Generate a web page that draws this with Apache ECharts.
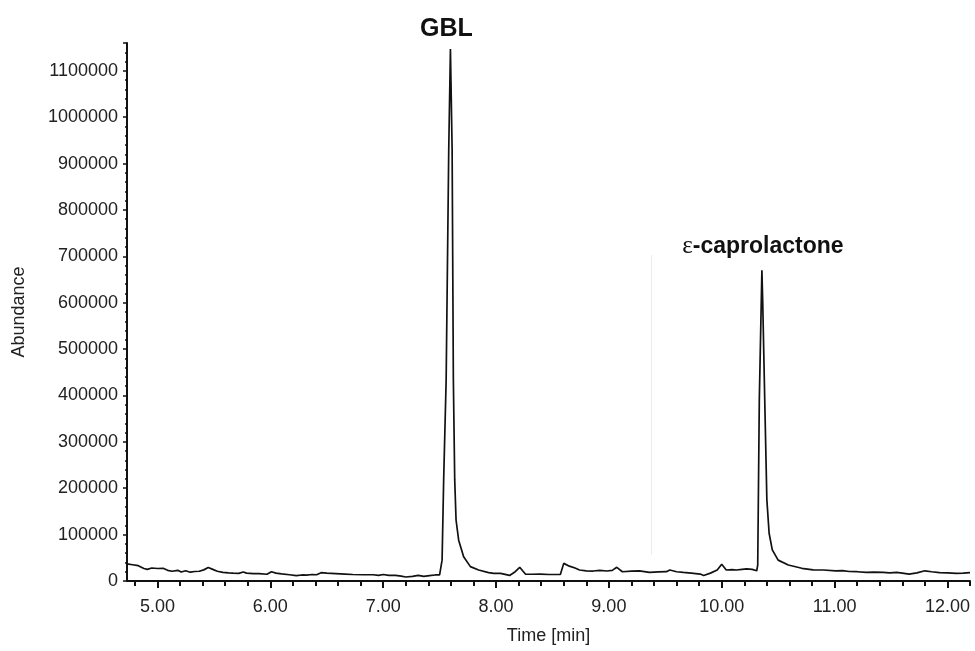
<!DOCTYPE html>
<html>
<head>
<meta charset="utf-8">
<script src="https://cdn.jsdelivr.net/npm/echarts@6/dist/echarts.min.js"></script>
<style>
html,body{margin:0;padding:0;background:#fff;}
#chart{width:975px;height:651px;}
</style>
</head>
<body>
<div id="chart"></div>
<script>
// Retention time (min)
const times = [
  4.73, 4.78, 4.83, 4.88, 4.91, 4.95, 5.00, 5.05, 5.09, 5.13, 5.18, 5.21, 5.25, 5.29, 5.33, 5.37,
  5.41, 5.45, 5.49, 5.53, 5.58, 5.63, 5.67, 5.72, 5.76, 5.79, 5.85, 5.90, 5.97, 6.01, 6.05, 6.10,
  6.17, 6.23, 6.28, 6.32, 6.37, 6.41, 6.45, 6.50, 6.58, 6.66, 6.73, 6.82, 6.91, 6.96, 7.00, 7.05,
  7.11, 7.16, 7.20, 7.26, 7.31, 7.36, 7.41, 7.46, 7.50,
  7.507, 7.522, 7.536, 7.558, 7.581, 7.596, 7.611, 7.622, 7.634, 7.646, 7.669, 7.713, 7.773, 7.846, 7.934,
  7.98, 8.04, 8.12, 8.17, 8.21, 8.26, 8.32, 8.39, 8.47, 8.57, 8.60, 8.65, 8.70, 8.74, 8.80, 8.86,
  8.92, 8.98, 9.03, 9.07, 9.12, 9.20, 9.27, 9.36, 9.44, 9.51, 9.54, 9.60, 9.66, 9.73, 9.81, 9.84,
  9.90, 9.96, 10.00, 10.04, 10.09, 10.13, 10.18, 10.22, 10.27, 10.31,
  10.319, 10.333, 10.356, 10.363, 10.383, 10.40, 10.42, 10.448, 10.50, 10.59, 10.71, 10.81,
  10.90, 11.01, 11.07, 11.13, 11.20, 11.28, 11.35, 11.43, 11.49, 11.55, 11.60, 11.66, 11.73, 11.80,
  11.86, 11.93, 12.00, 12.08, 12.14, 12.20
];
// Abundance
const abundance = [
  37000, 35000, 33000, 27000, 25000, 28000, 27000, 27500, 23000, 21000, 23000, 19500, 22000, 19000, 20500, 21000,
  24000, 29000, 25000, 21000, 18500, 17500, 17000, 16500, 19500, 17000, 16000, 16000, 14500, 20000, 17000, 15500,
  13500, 11500, 13000, 12500, 14000, 13500, 18000, 17000, 16000, 15000, 14000, 13500, 13500, 12000, 14000, 12000,
  12000, 10500, 8600, 10000, 12000, 10000, 11500, 13000, 13000,
  13000, 45000, 218000, 433000, 930000, 1147000, 930000, 433000, 218000, 131000, 88000, 52500, 31000, 23700, 18000,
  16500, 16500, 12000, 20000, 29500, 15000, 14500, 15000, 14000, 14000, 38000, 32000, 28000, 23700, 22000, 21500,
  23000, 21500, 23000, 29500, 20000, 21500, 22000, 18500, 19500, 20000, 23700, 20000, 18500, 17000, 15000, 12000,
  17000, 23700, 36000, 23700, 24500, 23700, 25000, 26000, 25000, 22000,
  34500, 390000, 670000, 605000, 369000, 175000, 103000, 67000, 45000, 34500, 27400, 24000,
  23700, 22000, 22500, 20500, 20000, 18500, 19000, 18500, 17500, 18500, 17000, 15000, 17500, 22000,
  20000, 18000, 17500, 16500, 17000, 18000
];
// X axis tick values
const xMajorTicks = [5, 6, 7, 8, 9, 10, 11, 12];
const xMinorTicks = [4.8, 5.0, 5.2, 5.4, 5.6, 5.8, 6.0, 6.2, 6.4, 6.6, 6.8, 7.0, 7.2, 7.4, 7.6, 7.8,
  8.0, 8.2, 8.4, 8.6, 8.8, 9.0, 9.2, 9.4, 9.6, 9.8, 10.0, 10.2, 10.4, 10.6, 10.8, 11.0, 11.2, 11.4,
  11.6, 11.8, 12.0, 12.2];
// Peak annotations
const peakNames = ['GBL', 'ε-caprolactone'];
const peakTimes = [7.596, 10.356];
// Faint vertical artefact line
const artefactTime = 9.374;
const artefactRange = [56000, 703000];

const chart = echarts.init(document.getElementById('chart'), null, {renderer: 'canvas'});
const font = '"Liberation Sans", Arial, Helvetica, sans-serif';

const lineData = times.map((t, i) => [t, abundance[i]]);

const peakMarks = peakNames.map((name, k) => {
  const i = times.indexOf(peakTimes[k]);
  const isEps = name.startsWith('ε');
  return {
    coord: [times[i], abundance[i]],
    label: {
      show: true,
      position: 'top',
      distance: isEps ? 11 : 7,
      offset: isEps ? [1, 0] : [-4, 0],
      formatter: isEps ? '{e|ε}{b|' + name.slice(1) + '}' : '{g|' + name + '}',
      rich: {
        e: {fontFamily: '"Liberation Serif", "DejaVu Serif", serif', fontSize: 25, color: '#111'},
        b: {fontFamily: font, fontSize: 23, fontWeight: 'bold', color: '#111'},
        g: {fontFamily: font, fontSize: 25, fontWeight: 'bold', color: '#111'}
      }
    }
  };
});

const option = {
  animation: false,
  backgroundColor: '#fff',
  grid: {left: 127, right: 5, top: 43, bottom: 70},
  xAxis: [
    {
      type: 'value', min: 4.73, max: 12.2, position: 'bottom',
      name: 'Time [min]', nameLocation: 'middle', nameGap: 46,
      nameTextStyle: {fontFamily: font, fontSize: 18, color: '#222'},
      axisLine: {show: true, onZero: false, lineStyle: {color: '#111', width: 2}},
      axisTick: {show: true, customValues: xMajorTicks, length: 7, lineStyle: {color: '#111', width: 2}},
      axisLabel: {
        customValues: xMajorTicks, margin: 17, fontFamily: font, fontSize: 18, color: '#222',
        formatter: v => Number(v).toFixed(2)
      },
      splitLine: {show: false}
    },
    {
      type: 'value', min: 4.73, max: 12.2, position: 'bottom',
      axisLine: {show: false},
      axisTick: {show: true, customValues: xMinorTicks, length: 5, lineStyle: {color: '#111', width: 2}},
      axisLabel: {show: false},
      splitLine: {show: false}
    }
  ],
  yAxis: {
    type: 'value', min: 0, max: 1160000, interval: 100000,
    name: 'Abundance', nameLocation: 'middle', nameGap: 99,
    nameTextStyle: {fontFamily: font, fontSize: 18, color: '#222'},
    axisLine: {show: true, lineStyle: {color: '#111', width: 2}},
    axisTick: {show: true, length: 4, lineStyle: {color: '#111', width: 1.5}},
    minorTick: {show: true, splitNumber: 5, length: 2, lineStyle: {color: '#111', width: 1.5}},
    axisLabel: {
      margin: 9, fontFamily: font, fontSize: 18, color: '#222',
      formatter: v => v % 100000 === 0 ? String(v) : ''
    },
    splitLine: {show: false}
  },
  series: [
    {
      type: 'line', xAxisIndex: 0, data: lineData, showSymbol: false, symbol: 'none',
      lineStyle: {color: '#111', width: 1.7}, silent: true, z: 3,
      markPoint: {
        symbol: 'circle', symbolSize: 0, silent: true,
        itemStyle: {color: 'transparent'},
        data: peakMarks
      }
    },
    {
      type: 'line', xAxisIndex: 0, data: [], symbol: 'none', silent: true, z: 1,
      markLine: {
        symbol: 'none', silent: true, label: {show: false},
        lineStyle: {color: '#ececec', width: 1, type: 'solid'},
        data: [[{coord: [artefactTime, artefactRange[0]]}, {coord: [artefactTime, artefactRange[1]]}]]
      }
    }
  ]
};
chart.setOption(option);
</script>
</body>
</html>
